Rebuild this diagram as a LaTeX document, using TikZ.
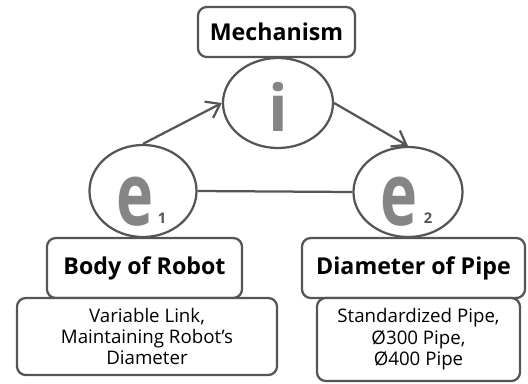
\documentclass[tikz,border=0pt]{standalone}
\usepackage{fontspec}
\setmainfont{Open Sans}
\usetikzlibrary{shapes.geometric, arrows.meta}
\definecolor{edgegray}{HTML}{555555}
\definecolor{glyphgray}{HTML}{858585}
\tikzset{
  box/.style={draw=edgegray, line width=1.6pt, rounded corners=2.2mm, fill=white,
    align=center, inner sep=0pt},
  head/.style={box, font=\fontsize{16.5}{19}\selectfont\bfseries},
  info/.style={box, font=\fontsize{13.3}{15.2}\selectfont},
  elem/.style={draw=edgegray, line width=1.6pt, ellipse, inner sep=0pt},
  glyph/.style={text=glyphgray, inner sep=0pt, font=\fontsize{62}{62}\selectfont\bfseries},
  idx/.style={text=edgegray, inner sep=0pt, font=\fontsize{10.5}{10.5}\selectfont\bfseries},
  link/.style={draw=edgegray, line width=1.6pt, -{Straight Barb[length=3.2mm, width=4.6mm]}}
}

\begin{document}
\begin{tikzpicture}[x=0.025cm, y=-0.025cm]
\useasboundingbox (0,0) rectangle (528,383);
% three elements of the triangle
\node[elem, minimum width=27.5mm, minimum height=22.5mm] (i) at (278,103) {};
\node[elem, minimum width=26.75mm, minimum height=23mm] (e1) at (143,191) {};
\node[elem, minimum width=27.25mm, minimum height=22.5mm] (e2) at (408,192) {};
\node[glyph, font=\fontsize{46}{46}\selectfont\bfseries] (iglyph) at (278,107) {i};
\node[glyph, xscale=0.72] (e1glyph) at (135,202) {e};
\node[glyph, xscale=0.72] (e2glyph) at (399,202) {e};
\node[idx] (e1idx) at (162,218) {1};
\node[idx] (e2idx) at (428,218) {2};
% connections
\draw[link] (e1.north) -- (i.west);
\draw[link] (i.east) -- (e2.north);
\draw[draw=edgegray, line width=1.6pt] (e1.east) -- (e2.west);
% labels
\node[head, minimum width=39.25mm, minimum height=12.5mm] (mech) at (276.5,32) {Mechanism};
\node[head, minimum width=48.75mm, minimum height=15mm] (body) at (144.5,268) {Body of Robot};
\node[head, minimum width=55.75mm, minimum height=15mm] (pipe) at (413.5,268) {Diameter of Pipe};
\node[info, minimum width=65mm, minimum height=19.25mm] (bodyinfo) at (147,336.5)
  {Variable Link,\\Maintaining Robot's\\Diameter};
\node[info, minimum width=50.75mm, minimum height=20.75mm] (pipeinfo) at (418.5,339.5)
  {Standardized Pipe,\\Ø300 Pipe,\\Ø400 Pipe};
\end{tikzpicture}
\end{document}
